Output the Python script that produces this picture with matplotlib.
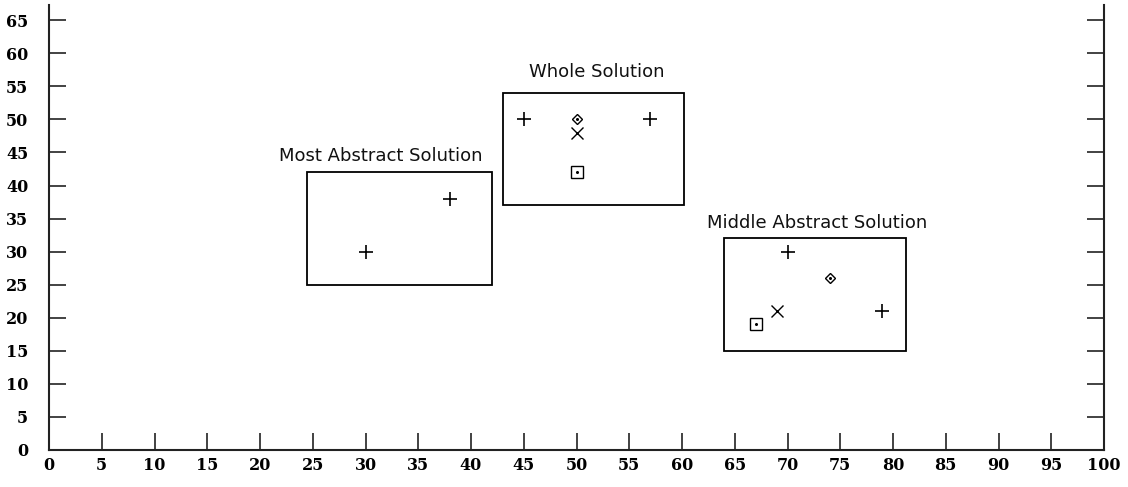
import matplotlib
matplotlib.use("Agg")
import matplotlib.pyplot as plt
from matplotlib.patches import Rectangle

# Groups (boxes): label, x0, x1, y0, y1
group_labels = ["Most Abstract Solution", "Whole Solution", "Middle Abstract Solution"]
box_x0 = [24.5, 43, 64]
box_x1 = [42, 60.2, 81.2]
box_y0 = [25, 37, 15]
box_y1 = [42, 54, 32]
label_x = [31.4, 51.9, 72.8]
label_y = [44.4, 57.1, 34.4]

# Points by marker type
plus_x = [30, 38, 45, 57, 70, 79]
plus_y = [30, 38, 50, 50, 30, 21]
diamond_x = [50, 74]
diamond_y = [50, 26]
cross_x = [50, 69]
cross_y = [48, 21]
square_x = [50, 67]
square_y = [42, 19]

x_ticks = list(range(0, 101, 5))
y_ticks = list(range(0, 66, 5))

fig = plt.figure(figsize=(11.28, 4.87), dpi=100)
ax = fig.add_axes([49/1128, 1-450/487, (1104-49)/1128, (450-5)/487])
ax.set_xlim(0, 100)
ax.set_ylim(0, 67.3)

for i in range(len(group_labels)):
    ax.add_patch(Rectangle((box_x0[i], box_y0[i]), box_x1[i]-box_x0[i], box_y1[i]-box_y0[i],
                           fill=False, edgecolor="black", linewidth=1.3))
    ax.text(label_x[i], label_y[i], group_labels[i], ha="center", va="center",
            fontsize=13, family="DejaVu Sans", color="#111111")

ax.plot(plus_x, plus_y, linestyle="none", marker="+", markersize=10, markeredgewidth=1.2, color="black")
ax.plot(cross_x, cross_y, linestyle="none", marker="x", markersize=8.5, markeredgewidth=1.0, color="black")
ax.plot(diamond_x, diamond_y, linestyle="none", marker="D", markersize=5, markeredgewidth=1.0,
        markerfacecolor="none", markeredgecolor="black")
ax.plot(diamond_x, diamond_y, linestyle="none", marker="o", markersize=1.2, color="black")
ax.plot(square_x, square_y, linestyle="none", marker="s", markersize=8, markeredgewidth=1.0,
        markerfacecolor="none", markeredgecolor="black")
ax.plot(square_x, square_y, linestyle="none", marker="o", markersize=1.2, color="black")

ax.spines["top"].set_visible(False)
for s in ["left", "right", "bottom"]:
    ax.spines[s].set_linewidth(1.5)
    ax.spines[s].set_color("#222222")

ax.set_xticks(x_ticks)
ax.set_yticks(y_ticks)
ax.tick_params(axis="both", direction="in", length=12, width=1.2, color="#222222",
               labelsize=11.5)
ax.tick_params(axis="y", right=True, labelright=False, pad=15)
ax.tick_params(axis="x", pad=5)
for lab in ax.get_xticklabels() + ax.get_yticklabels():
    lab.set_fontfamily("DejaVu Serif")
    lab.set_fontweight("bold")

fig.savefig("out.png", dpi=100)
